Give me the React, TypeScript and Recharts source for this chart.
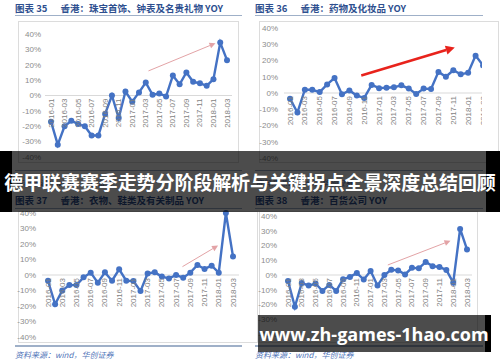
import React from 'react';
import { LineChart, Line, XAxis, YAxis, ReferenceLine } from 'recharts';

const months = [
  '2016-01', '2016-02', '2016-03', '2016-04', '2016-05', '2016-06', '2016-07', '2016-08', '2016-09',
  '2016-10', '2016-11', '2016-12', '2017-01', '2017-02', '2017-03', '2017-04', '2017-05', '2017-06',
  '2017-07', '2017-08', '2017-09', '2017-10', '2017-11', '2017-12', '2018-01', '2018-02', '2018-03',
];

// YOY, %
const jewelleryYoy = [-17, -32, -20, -16.5, -18.5, -20, -26, -26, -12, 0, -14.7, 2.6, -4, 2, 8.4, 0.5, 1.3, -0.6, 13, 7.3, 15, 8.9, 8, 6.3, 10.6, 34.4, 23];
const pharmaYoy = [-3.5, -12, 2, 2, 0.6, 5.3, 9.2, -0.8, 1.6, -1.6, -3, 5, 3, 3.2, 3.5, 4.7, 2.7, -0.6, 2.7, 2.5, 13, 10, 14, 11.5, 12.5, 23, 17];
const clothingYoy = [-3.7, -18.9, -10, -6.5, -6.5, -1.5, 1.5, -5, 1.7, -3.7, 3.7, -3.7, -3.9, -10.4, 1, 1.7, -1, -2.2, 0, -1.7, 1.5, 6.5, 3.9, 6, 1.5, 40, 11.9];
const deptStoreYoy = [-4, -21.6, -5.4, -7.2, -5.8, -10.8, -6.7, -10.8, -2.9, -1.3, 1.3, -3.1, 2.7, -7.2, 0, 3.6, 3.1, 0.4, 4.9, 4.5, 8.8, 6, 5.4, 3.4, -5.2, 31.2, 17.3];

const yTicks = [-40, -30, -20, -10, 0, 10, 20, 30, 40];
const monthTicks = [0, 2, 4, 6, 8, 10, 12, 14, 16, 18, 20, 22, 24, 26];

// trend arrows, [monthIndex, yoy] start and end
const jewelleryArrow = [[14.4, 16], [24.3, 34]];
const pharmaArrow = [[9.6, 10.7], [22.2, 28]];
const clothingArrow = [[18.9, 5.4], [23.9, 19]];
const deptStoreArrow = [[14.5, 6.8], [23.6, 23.2]];

const BLUE = '#4472C4';
const TITLE = '#2E4F8F';
const AXIS_FONT = '"Liberation Sans", Arial, sans-serif';
const CJK = '"Noto Sans CJK SC", sans-serif';

function toRows(values: number[]) {
  return values.map((v, i) => ({ i, v }));
}

function Arrow(props: any) {
  const { x1, y1, x2, y2, color, width, head } = props;
  const ang = Math.atan2(y2 - y1, x2 - x1);
  const hx = x2 - head * Math.cos(ang);
  const hy = y2 - head * Math.sin(ang);
  const w = head * 0.5;
  const px = -Math.sin(ang) * w;
  const py = Math.cos(ang) * w;
  return (
    <g>
      <line x1={x1} y1={y1} x2={hx} y2={hy} stroke={color} strokeWidth={width} />
      <polygon points={`${x2},${y2} ${hx + px},${hy + py} ${hx - px},${hy - py}`} fill={color} />
    </g>
  );
}

interface PanelProps {
  values: number[];
  arrow: number[][];
  arrowColor: string;
  arrowWidth: number;
  arrowHead: number;
  width: number;
  height: number;
  margin: { top: number; right: number; bottom: number; left: number };
  padding: { left: number; right: number };
  tickMargin: number;
}

function Panel({ values, arrow, arrowColor, arrowWidth, arrowHead, width, height, margin, padding, tickMargin }: PanelProps) {
  // x axis takes 1px below the plot
  const plotBottom = height - margin.bottom - 1;
  const zeroY = margin.top + (plotBottom - margin.top) / 2;
  return (
    <LineChart width={width} height={height} data={toRows(values)} margin={margin}>
      <XAxis
        dataKey="i"
        type="number"
        domain={[0, 26]}
        ticks={monthTicks}
        height={1}
        padding={padding}
        axisLine={false}
        tickLine={false}
        interval={0}
        tick={(p: any) => (
          <text
            key={p.index}
            transform={`translate(${p.x},${zeroY + 3}) rotate(-90)`}
            textAnchor="end"
            dominantBaseline="central"
            fontSize={8}
            fontFamily={AXIS_FONT}
            fill="#7f7f7f"
          >
            {months[p.payload.value]}
          </text>
        )}
      />
      <YAxis
        domain={[-40, 40]}
        ticks={yTicks}
        width={30}
        axisLine={false}
        tickLine={false}
        tickSize={2}
        tickMargin={tickMargin}
        interval={0}
        tickFormatter={(v: number) => `${v}%`}
        tick={{ fontSize: 8, fill: '#8c8c8c', fontFamily: AXIS_FONT }}
      />
      <ReferenceLine y={0} stroke="#d9d9d9" strokeWidth={1} />
      <ReferenceLine
        segment={[{ x: arrow[0][0], y: arrow[0][1] }, { x: arrow[1][0], y: arrow[1][1] }]}
        ifOverflow="visible"
        shape={(p: any) => (
          <Arrow x1={p.x1} y1={p.y1} x2={p.x2} y2={p.y2} color={arrowColor} width={arrowWidth} head={arrowHead} />
        )}
      />
      <Line
        dataKey="v"
        stroke={BLUE}
        strokeWidth={2.4}
        dot={{ r: 3, fill: BLUE, stroke: 'none' }}
        isAnimationActive={false}
      />
    </LineChart>
  );
}

function Title({ top, left, num, text }: { top: number; left: number; num: string; text: string }) {
  return (
    <div
      style={{
        position: 'absolute', top, left, fontFamily: CJK, fontWeight: 700, fontSize: 9.5,
        color: TITLE, lineHeight: '10px', whiteSpace: 'nowrap',
      }}
    >
      <span style={{ marginRight: 13 }}>图表 {num}</span>
      {text}
    </div>
  );
}

function Rule({ top, left, width, color = '#9fb0c8', h = 1 }: any) {
  return <div style={{ position: 'absolute', top, left, width, height: h, background: color }} />;
}

function Box({ top, left, width, height }: any) {
  return (
    <div style={{ position: 'absolute', top, left, width, height, border: '1px solid #dcdcdc', boxSizing: 'border-box' }} />
  );
}

function Source({ top, left }: { top: number; left: number }) {
  return (
    <div
      style={{
        position: 'absolute', top, left, fontFamily: CJK, fontStyle: 'italic', fontSize: 8,
        color: '#4f74b8', lineHeight: '10px', whiteSpace: 'nowrap',
      }}
    >
      资料来源：wind，华创证券
    </div>
  );
}

export default function App() {
  return (
    <div style={{ position: 'fixed', left: 0, top: 0, width: 500, height: 362, overflow: 'hidden', background: '#fff' }}>
      {/* top row */}
      <Title top={3} left={15} num="35" text="香港：珠宝首饰、钟表及名贵礼物 YOY" />
      <Rule top={15} left={15} width={227} />
      <Title top={3} left={255} num="36" text="香港：药物及化妆品 YOY" />
      <Rule top={15} left={255} width={228} />
      <Box top={21} left={18} width={221} height={142} />
      <Box top={21} left={259} width={240} height={142} />

      <div style={{ position: 'absolute', left: 0, top: 0 }}>
        <Panel
          values={jewelleryYoy}
          arrow={jewelleryArrow}
          arrowColor="#e3a3a6"
          arrowWidth={1}
          arrowHead={6}
          width={250}
          height={170}
          margin={{ top: 34, right: 18, bottom: 12, left: 15 }}
          padding={{ left: 6, right: 5 }}
          tickMargin={2}
        />
      </div>
      <div style={{ position: 'absolute', left: 250, top: 0, width: 232, height: 170, overflow: 'hidden' }}>
        <Panel
          values={pharmaYoy}
          arrow={pharmaArrow}
          arrowColor="#e8231c"
          arrowWidth={2.6}
          arrowHead={9}
          width={250}
          height={170}
          margin={{ top: 28, right: 11, bottom: 11, left: 4 }}
          padding={{ left: 6, right: 6 }}
          tickMargin={4}
        />
      </div>
      <Rule top={170} left={15} width={227} />
      <Rule top={170} left={255} width={228} />
      <Source top={178} left={15} />
      <Source top={178} left={255} />

      {/* bottom row */}
      <Title top={195} left={15} num="37" text="香港：衣物、鞋类及有关制品 YOY" />
      <Rule top={208} left={15} width={227} />
      <Title top={195} left={255} num="38" text="香港：百货公司 YOY" />
      <Rule top={208} left={255} width={228} />
      <Box top={211} left={18} width={240} height={132} />
      <Box top={211} left={259} width={219} height={132} />

      <div style={{ position: 'absolute', left: 0, top: 200 }}>
        <Panel
          values={clothingYoy}
          arrow={clothingArrow}
          arrowColor="#e3a3a6"
          arrowWidth={1}
          arrowHead={6}
          width={250}
          height={150}
          margin={{ top: 13, right: 11, bottom: 12, left: 12 }}
          padding={{ left: 6, right: 6 }}
          tickMargin={4}
        />
      </div>
      <div style={{ position: 'absolute', left: 250, top: 200 }}>
        <Panel
          values={deptStoreYoy}
          arrow={deptStoreArrow}
          arrowColor="#e3a3a6"
          arrowWidth={1}
          arrowHead={6}
          width={250}
          height={150}
          margin={{ top: 16, right: 28, bottom: 15, left: 2 }}
          padding={{ left: 6, right: 5 }}
          tickMargin={3}
        />
      </div>
      <Rule top={345} left={15} width={227} h={2} />
      <Rule top={345} left={255} width={228} h={2} />
      <Source top={350} left={15} />
      <Source top={350} left={255} />

      {/* headline banner */}
      <div style={{ position: 'absolute', left: 0, top: 151, width: 500, height: 61, background: 'rgba(0,0,0,0.7)' }} />
      <div style={{ position: 'absolute', left: 0, top: 151, width: 12, height: 61, background: '#000' }} />
      <div style={{ position: 'absolute', left: 486, top: 151, width: 14, height: 61, background: '#000' }} />
      <div
        style={{
          position: 'absolute', left: 0, top: 151, width: 500, height: 61, display: 'flex',
          alignItems: 'center', justifyContent: 'center', color: '#fff', fontFamily: CJK,
          fontWeight: 700, fontSize: 19, whiteSpace: 'nowrap', letterSpacing: -0.1,
        }}
      >
        德甲联赛赛季走势分阶段解析与关键拐点全景深度总结回顾
      </div>

      {/* url banner */}
      <div style={{ position: 'absolute', left: 258, top: 315, width: 228, height: 37, background: 'rgba(0,0,0,0.7)' }} />
      <div style={{ position: 'absolute', left: 485, top: 315, width: 6, height: 37, background: '#000' }} />
      <div
        style={{
          position: 'absolute', left: 262, top: 315, width: 224, height: 37, display: 'flex',
          alignItems: 'center', justifyContent: 'center', color: '#fff',
          fontFamily: '"Open Sans", "DejaVu Sans", sans-serif', fontWeight: 700, fontSize: 18, whiteSpace: 'nowrap',
        }}
      >
        www.zh-games-1hao.com
      </div>
    </div>
  );
}
